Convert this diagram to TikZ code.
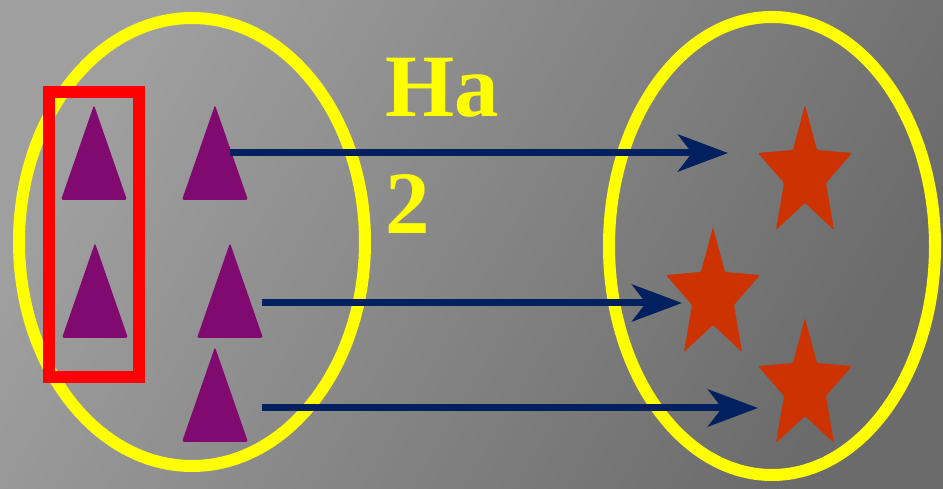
\documentclass[tikz,border=0pt]{standalone}
\usepackage{fontspec}
\setmainfont{Liberation Serif}
\usetikzlibrary{arrows.meta}

\definecolor{ringyellow}{RGB}{255,255,0}
\definecolor{boxred}{RGB}{255,0,0}
\definecolor{purp}{RGB}{128,10,112}
\definecolor{starred}{RGB}{204,51,0}
\definecolor{navy}{RGB}{0,32,96}

\begin{document}
\begin{tikzpicture}[x=0.03cm, y=-0.03cm,
	tri/.pic={\fill[purp, rounded corners=1.5pt]
		(0,0) -- (33,95) -- (-33,95) -- cycle;},
	starshape/.pic={\fill[starred, rounded corners=1pt]
		(0,0) -- (12,45) -- (47,48) -- (21,78) -- (29,125) -- (0,98)
		-- (-29,125) -- (-21,78) -- (-47,48) -- (-12,45) -- cycle;},
	ring/.style={draw=ringyellow, line width=0.36cm},
	arr/.style={draw=navy, line width=0.21cm,
		-{Stealth[length=1.5cm, width=1.11cm, inset=0.42cm]}}]

	% background
	\useasboundingbox (0,0) rectangle (943,489);
	\shade[shading=axis, left color=gray!75, middle color=gray!80!white,
		right color=black!58, shading angle=60] (0,0) rectangle (943,489);

	% the two sets
	\draw[ring] (192,242) ellipse [x radius=173, y radius=224];
	\draw[ring] (772,246) ellipse [x radius=163, y radius=229];

	% triangles
	\coordinate (t1) at (94,105);
	\coordinate (t2) at (215,105);
	\coordinate (t3) at (95,243);
	\coordinate (t4) at (230,243);
	\coordinate (t5) at (215,347);
	\foreach \t in {t1,t2,t3,t4,t5}
		\pic at (\t) {tri};

	\draw[boxred, line width=0.36cm] (49,92) rectangle (139,377);

	% stars
	\coordinate (s1) at (805,105);
	\coordinate (s2) at (713,227);
	\coordinate (s3) at (805,318);
	\foreach \s in {s1,s2,s3}
		\pic at (\s) {starshape};

	% arrows
	\coordinate (a1) at (230,153);
	\coordinate (b1) at (728,153);
	\coordinate (a2) at (262,303);
	\coordinate (b2) at (682,303);
	\coordinate (a3) at (262,408);
	\coordinate (b3) at (758,408);
	\draw[arr] (a1) -- (b1);
	\draw[arr] (a2) -- (b2);
	\draw[arr] (a3) -- (b3);

	\node[anchor=north west, align=left, text=ringyellow,
		font=\fontsize{76}{100}\selectfont\bfseries, inner sep=0pt]
		(label) at (385,58) {Ha\\2};

\end{tikzpicture}
\end{document}
